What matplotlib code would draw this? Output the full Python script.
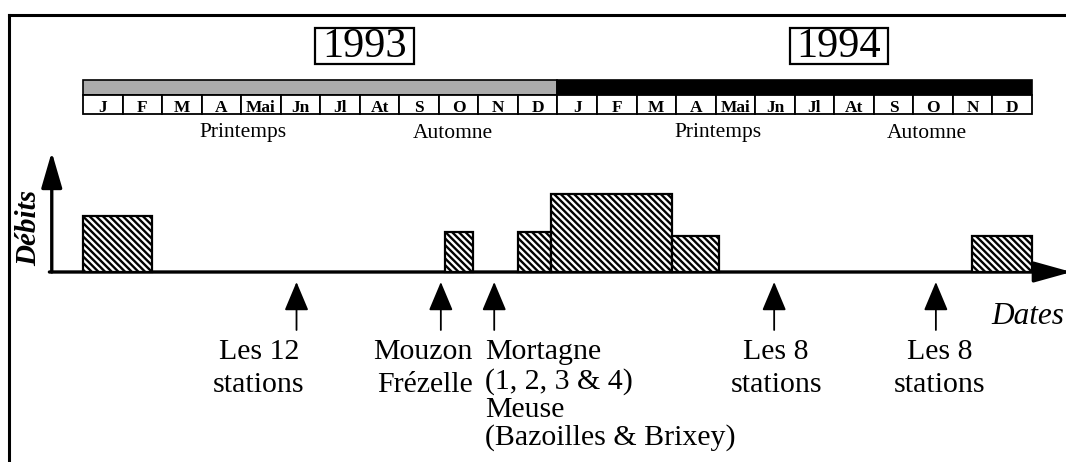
import matplotlib
matplotlib.use("Agg")
import matplotlib.pyplot as plt
from matplotlib.patches import Rectangle

plt.rcParams['font.family'] = ['Liberation Serif', 'DejaVu Serif']
plt.rcParams['hatch.linewidth'] = 1.7

# ---------------- data ----------------
years = ['1993', '1994']
month_labels = ['J', 'F', 'M', 'A', 'Mai', 'Jn', 'Jl', 'At', 'S', 'O', 'N', 'D']
season_labels = ['Printemps', 'Automne']
season_pos = [4.05, 9.35]          # month position within each year

# flow episodes (months from Jan 1993) and relative discharge level
flow_start = [0.0, 9.15, 11.0, 11.83, 14.9, 22.48]
flow_end = [1.74, 9.86, 11.83, 14.9, 16.08, 24.0]
flow_level = [5.6, 4.0, 4.0, 7.8, 3.6, 3.6]

# sampling campaigns (months from Jan 1993)
campaign_dates = [5.4, 9.05, 10.4, 17.48, 21.57]
campaign_labels = [
    ['Les 12', 'stations'],
    ['Mouzon', 'Frézelle'],
    ['Mortagne', '(1, 2, 3 & 4)', 'Meuse', '(Bazoilles & Brixey)'],
    ['Les 8', 'stations'],
    ['Les 8', 'stations'],
]

# ---------------- layout ----------------
label_align = ['center', 'right', 'left', 'center', 'center']
label_dx = [-0.95, 0.8, -0.23, 0.05, 0.1]
line_y_pair = [-8.0, -11.3]
line_y_block = [-8.0, -11.0, -13.8, -16.6]

W, H = 1066, 462
fig = plt.figure(figsize=(W / 100, H / 100), dpi=100)
ax = fig.add_axes([0, 0, 1, 1])
PXM = 39.54     # pixels per month
PXU = 10.0      # pixels per flow unit
X0 = -83 / PXM
X1 = (W - 83) / PXM
Y0 = -(H - 272) / PXU
Y1 = 272 / PXU
ax.set_xlim(X0, X1)
ax.set_ylim(Y0, Y1)
ax.axis('off')

# outer frame (left and top)
ax.plot([-1.87, -1.87], [Y0 - 1, 25.7], color='black', lw=2.2, solid_capstyle='projecting')
ax.plot([-1.87, X1 + 1], [25.7, 25.7], color='black', lw=2.2, solid_capstyle='projecting')

# year timeline
bar_colors = ['#ababab', 'black']
for yi, yr in enumerate(years):
    off = 12 * yi
    ax.add_patch(Rectangle((off, 17.7), 12, 1.5, facecolor=bar_colors[yi],
                           edgecolor='black', lw=1.2))
    for mi, ml in enumerate(month_labels):
        ax.add_patch(Rectangle((off + mi, 15.85), 1, 1.85, facecolor='white',
                               edgecolor='black', lw=1.3))
        ax.text(off + mi + 0.5, 16.0, ml, ha='center', va='baseline',
                fontsize=12.5, fontweight='bold')
    for sl, sp in zip(season_labels, season_pos):
        ax.text(off + sp, 13.9, sl, ha='center', va='center', fontsize=15.5)
    ax.add_patch(Rectangle((off + 5.87, 20.8), 2.5, 3.6, fill=False,
                           edgecolor='black', lw=1.6))
    ax.text(off + 7.12, 22.5, yr, ha='center', va='center', fontsize=30.5)

# flow bars
widths = [e - s for s, e in zip(flow_start, flow_end)]
ax.bar(flow_start, flow_level, width=widths, align='edge', bottom=0,
       facecolor='white', edgecolor='black', hatch='\\' * 5, linewidth=1.6, zorder=3)

# axes arrows
ax.annotate('', xy=(-0.79, 12.0), xytext=(-0.79, 0), annotation_clip=False,
            arrowprops=dict(arrowstyle='-|>,head_length=1.1,head_width=0.32',
                            mutation_scale=20, lw=2.4, color='black',
                            shrinkA=0, shrinkB=0), zorder=4)
ax.annotate('', xy=(25.0, 0), xytext=(-0.85, 0), annotation_clip=False,
            arrowprops=dict(arrowstyle='-|>,head_length=1.15,head_width=0.32',
                            mutation_scale=20, lw=2.4, color='black',
                            shrinkA=0, shrinkB=0), zorder=2)

ax.text(-1.37, 4.4, 'Débits', rotation=90, ha='center', va='center',
        fontsize=21, fontstyle='italic', fontweight='bold')
ax.text(22.98, -4.4, 'Dates', ha='left', va='center', fontsize=22.5,
        fontstyle='italic')

# campaign arrows & labels
for d, lab, al, dx in zip(campaign_dates, campaign_labels, label_align, label_dx):
    ax.annotate('', xy=(d, -1.0), xytext=(d, -5.8),
                arrowprops=dict(arrowstyle='-|>,head_length=1.0,head_width=0.42',
                                mutation_scale=18, lw=1.3, color='black',
                                shrinkA=0, shrinkB=0))
    ys = line_y_block if len(lab) > 2 else line_y_pair
    for li, line in enumerate(lab):
        ax.text(d + dx, ys[li], line, ha=al, va='center', fontsize=21.5)

fig.savefig('out.png', dpi=100)
